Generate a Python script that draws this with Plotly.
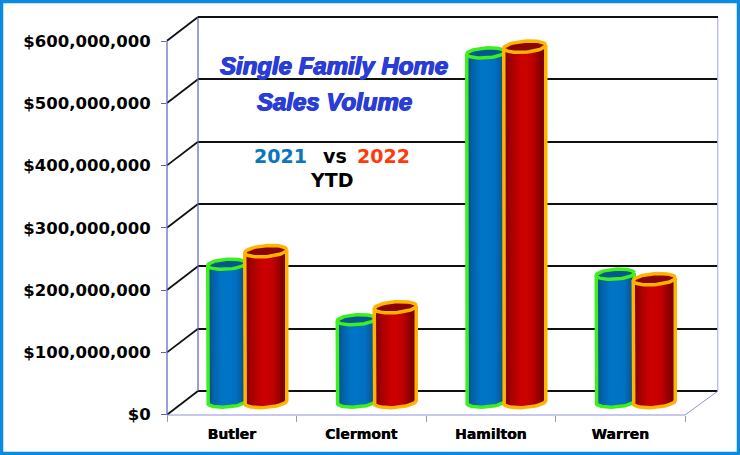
import numpy as np
import plotly.graph_objects as go

categories = ["Butler", "Clermont", "Hamilton", "Warren"]
sales_2021 = [221e6, 132e6, 560e6, 205e6]
sales_2022 = [242e6, 152e6, 570e6, 197e6]
tick_vals = [0, 100e6, 200e6, 300e6, 400e6, 500e6, 600e6]
tick_text = ["$0", "$100,000,000", "$200,000,000", "$300,000,000",
             "$400,000,000", "$500,000,000", "$600,000,000"]

W, H = 740, 455
PX = 374 / 600e6          # pixels per dollar
CAT_PX = 129.5            # pixels per category


def dom_x(a, b):
    return [a / W, b / W]


def dom_y(bottom, top):
    return [(H - bottom) / H, (H - top) / H]


def shade(stops, u):
    # u runs -1..1 across the cylinder
    pos = [s[0] for s in stops]
    rgb = [np.interp(u, pos, [s[1][k] for s in stops]) for k in range(3)]
    return "rgb(%d,%d,%d)" % tuple(rgb)


blue_stops = [(-1, (10, 68, 118)), (-0.7, (4, 98, 168)), (-0.2, (0, 118, 200)),
              (0.5, (2, 114, 194)), (0.85, (6, 90, 154)), (1, (8, 72, 126))]
red_stops = [(-1, (120, 0, 0)), (-0.65, (165, 0, 0)), (-0.15, (205, 0, 0)),
             (0.35, (196, 0, 0)), (0.75, (140, 0, 0)), (1, (110, 0, 0))]

fig = go.Figure()

# back wall, drawn first so everything sits on top of it
fig.add_trace(go.Scatter(x=[0], y=[0], xaxis="x", yaxis="y", mode="markers",
                         marker=dict(opacity=0), hoverinfo="skip"))
# front axes with the labels
fig.add_trace(go.Scatter(x=categories, y=[0, 0, 0, 0], xaxis="x2", yaxis="y2",
                         mode="markers", marker=dict(opacity=0), hoverinfo="skip"))


def add_cylinders(values, cx, hw, hh, tilt, stops, edge, top_fill, z):
    n = int(hw * 2)
    us = (np.arange(n) + 0.5) / n * 2 - 1
    for u in us:
        px_x = cx + hw * u
        low = (-hh * np.sqrt(1 - u * u) + tilt * u) / PX
        fig.add_trace(go.Bar(
            x=[i + px_x / CAT_PX for i in range(len(values))],
            y=[v + tilt * u / PX - low for v in values],
            base=[low] * len(values),
            width=2 / CAT_PX,
            marker=dict(color=shade(stops, u), line=dict(width=0)),
            xaxis="x3", yaxis="y3", zorder=z, hoverinfo="skip"))

    t = np.linspace(0, 2 * np.pi, 61)
    tx, ty, ox, oy = [], [], [], []
    for i, v in enumerate(values):
        ex = hw * np.cos(t)
        ey = hh * np.sin(t) + tilt * np.cos(t)
        tx += list(i + (cx + ex) / CAT_PX) + [None]
        ty += list(v + ey / PX) + [None]
        # outline of the body: left side, bottom arc, right side
        a = np.linspace(np.pi, 2 * np.pi, 31)
        bx = hw * np.cos(a)
        by = hh * np.sin(a) + tilt * np.cos(a)
        ox += [i + (cx - hw) / CAT_PX] + list(i + (cx + bx) / CAT_PX) + [i + (cx + hw) / CAT_PX, None]
        oy += [v - tilt / PX] + list(by / PX) + [v + tilt / PX, None]
    fig.add_trace(go.Scatter(x=ox, y=oy, xaxis="x3", yaxis="y3", mode="lines",
                             line=dict(color=edge, width=3.5), zorder=z + 1, hoverinfo="skip"))
    fig.add_trace(go.Scatter(x=tx, y=ty, xaxis="x3", yaxis="y3", mode="lines", fill="toself",
                             fillcolor=top_fill, line=dict(color=edge, width=3.5),
                             zorder=z + 1, hoverinfo="skip"))


add_cylinders(sales_2021, -20.5, 19, 5, 1.2, blue_stops, "#3cf01e", "#04578f", 1)
add_cylinders(sales_2022, 18.5, 21, 5.5, 1.5, red_stops, "#ffb400", "#8a0606", 3)

# diagonals between front axis and back wall, plus the floor
shapes = []
for v in tick_vals:
    shapes.append(dict(type="line", xref="paper", yref="paper",
                       x0=167 / W, x1=198 / W,
                       y0=(H - (414.7 - v * PX)) / H, y1=(H - (391 - v * PX)) / H,
                       line=dict(color="#111111", width=1.8), layer="below"))
# wall edges, the floor and the top line of the back wall
edges = [(685, 415, 718, 391, "#8f92dc", 1),
         (717.7, 391, 717.7, 17, "#b0b4f0", 1.2),
         (167, 415, 685, 415, "#8f92dc", 1.2),
         (167, 41, 167, 415, "#5a5fc0", 1.2),
         (198, 17, 198, 391, "#5a5fc0", 1.2),
         (198, 17, 718, 17, "#111111", 2)]
for x0, y0, x1, y1, c, w in edges:
    shapes.append(dict(type="line", xref="paper", yref="paper",
                       x0=x0 / W, x1=x1 / W, y0=(H - y0) / H, y1=(H - y1) / H,
                       line=dict(color=c, width=w)))
shapes.append(dict(type="rect", xref="paper", yref="paper",
                   x0=1.5 / W, x1=738.5 / W, y0=1.5 / H, y1=453.5 / H,
                   line=dict(color="#0a8ae0", width=3.5)))


def note(text, x, y, size, color, family="DejaVu Sans", style="normal", shadow="none"):
    return dict(text=text, xref="paper", yref="paper", x=x / W, y=(H - y) / H,
                xanchor="center", yanchor="middle", showarrow=False,
                font=dict(family=family, size=size, color=color, weight="bold",
                          style=style, shadow=shadow))


title_font = "Liberation Sans"
title_blue = "#2a3dd6"
thick = "0.7px 0 0 %s, -0.7px 0 0 %s, 0 0.5px 0 %s" % (title_blue, title_blue, title_blue)
annotations = [
    note("Single Family Home", 334, 65, 24, title_blue, title_font, "italic", thick),
    note("Sales Volume", 334, 101, 24, title_blue, title_font, "italic", thick),
    note("2021", 280, 156, 19, "#0a76bd"),
    note("vs", 335, 156, 19, "#000000"),
    note("2022", 383, 156, 19, "#ff3a0a"),
    note("YTD", 332, 180, 19, "#000000"),
]

fig.update_layout(
    width=W, height=H, margin=dict(l=0, r=0, t=0, b=0, autoexpand=False),
    paper_bgcolor="white", plot_bgcolor="rgba(0,0,0,0)",
    showlegend=False, barmode="overlay", shapes=shapes, annotations=annotations,
    xaxis=dict(domain=dom_x(198, 718), range=[0, 1], visible=False),
    yaxis=dict(domain=dom_y(391, 17), range=[0, 600e6], anchor="x",
               tickvals=tick_vals, showticklabels=False, ticks="",
               showgrid=True, gridcolor="#111111", gridwidth=2,
               zeroline=True, zerolinecolor="#111111", zerolinewidth=2),
    xaxis2=dict(domain=dom_x(167, 685), type="category", categoryorder="array",
                categoryarray=categories, range=[-0.5, 3.5], anchor="y2",
                tickson="boundaries", ticks="outside", ticklen=6, tickcolor="#9a9aa8",
                showgrid=False,
                tickfont=dict(family="DejaVu Sans", size=14, color="#000000", weight="bold",
                              shadow="0.4px 0 0 #000000"),
                ticklabelstandoff=9),
    yaxis2=dict(domain=dom_y(414.7, 41), range=[0, 600e6], anchor="x2",
                tickvals=tick_vals, ticktext=tick_text, ticks="outside", ticklen=5,
                tickcolor="#5a5fc0", showgrid=False, zeroline=False,
                tickfont=dict(family="DejaVu Sans", size=16.5, color="#000000", weight="bold"),
                ticklabelstandoff=7),
    # bars sit half way into the floor
    xaxis3=dict(domain=dom_x(182.5, 700.5), range=[-0.5, 3.5], visible=False, anchor="y3"),
    yaxis3=dict(domain=dom_y(402 + 24e6 * PX, 402 - 640e6 * PX), range=[-24e6, 640e6],
                visible=False, anchor="x3"),
)

fig.write_html("out.html", config=dict(displayModeBar=False),
               post_script="document.body.style.margin='0';")
